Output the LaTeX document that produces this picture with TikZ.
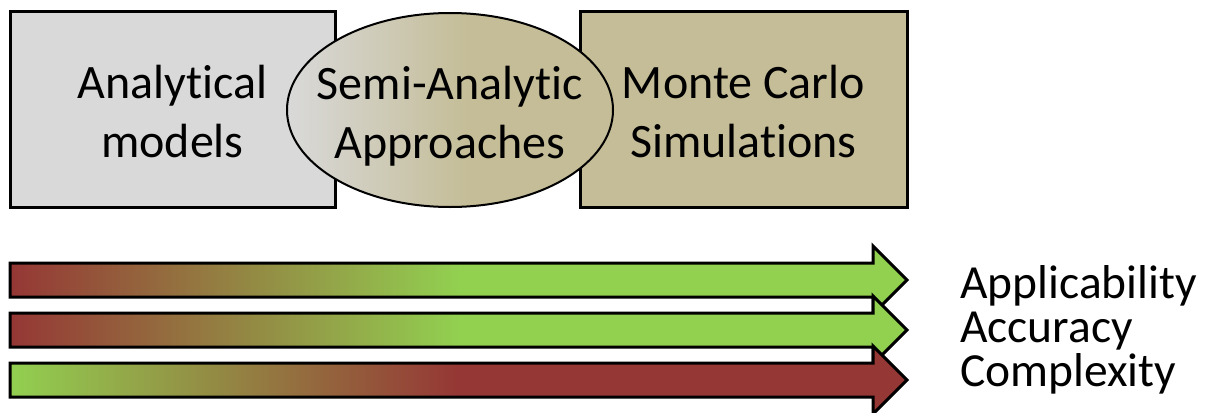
\documentclass[tikz,border=0pt]{standalone}
\usepackage{fontspec}
\setmainfont[Ligatures={NoCommon,NoContextual}]{Carlito}
\usetikzlibrary{shapes.geometric}
\definecolor{boxgray}{HTML}{D9D9D9}
\definecolor{mctan}{HTML}{C4BD97}
\definecolor{arrred}{HTML}{953735}
\definecolor{arrgreen}{HTML}{92D050}
\pgfdeclarehorizontalshading{semishade}{100bp}{color(0bp)=(boxgray); color(25bp)=(boxgray); color(53bp)=(mctan); color(100bp)=(mctan)}
\pgfdeclarehorizontalshading{rgshade}{100bp}{color(0bp)=(arrred); color(25bp)=(arrred); color(50bp)=(arrgreen); color(100bp)=(arrgreen)}
\pgfdeclarehorizontalshading{grshade}{100bp}{color(0bp)=(arrgreen); color(25bp)=(arrgreen); color(50bp)=(arrred); color(100bp)=(arrred)}
\tikzset{
  blockbox/.style={draw=black, line width=3pt, rectangle, minimum height=195pt, inner sep=0pt},
  blocktext/.style={font=\fontsize{48pt}{59pt}\selectfont, align=center, inner sep=0pt},
  semiell/.style={draw=black, line width=2pt, ellipse, shading=semishade, minimum width=326pt, minimum height=194pt, inner sep=0pt},
  bigarrow/.style={draw=black, line width=3pt, line join=miter},
  sidetext/.style={font=\fontsize{47.5pt}{47.5pt}\selectfont, anchor=base west, inner sep=0pt}
}
\begin{document}
\begin{tikzpicture}[x=1pt,y=-1pt]
\useasboundingbox (0,0) rectangle (1209,412);
% blocks
\node[blockbox, fill=boxgray, minimum width=325pt] (am) at (172.5,109.5) {};
\node[blocktext] (amt) at ([yshift=-2pt]am.center) {Analytical\\models};
\node[blockbox, fill=mctan, minimum width=327pt] (mc) at (743.5,109.5) {};
\node[blocktext] (mct) at ([yshift=-2pt]mc.center) {Monte Carlo\\Simulations};
\node[semiell] (sa) at (450,110) {};
\node[blocktext] (sat) at ([yshift=-6pt]sa.center) {Semi-Analytic\\Approaches};
% arrows
\shadedraw[bigarrow, shading=rgshade] (10,263) -- (873,263) -- (873,246) -- (907,280) -- (873,314) -- (873,297) -- (10,297) -- cycle;
\shadedraw[bigarrow, shading=rgshade] (10,313) -- (873,313) -- (873,296) -- (907,330) -- (873,364) -- (873,347) -- (10,347) -- cycle;
\shadedraw[bigarrow, shading=grshade] (10,363) -- (873,363) -- (873,346) -- (907,380) -- (873,414) -- (873,397) -- (10,397) -- cycle;
% labels
\node[sidetext] (ap) at (960,298) {Applicability};
\node[sidetext] (ac) at (960,342) {Accuracy};
\node[sidetext] (co) at (960,386) {Complexity};
\end{tikzpicture}
\end{document}
